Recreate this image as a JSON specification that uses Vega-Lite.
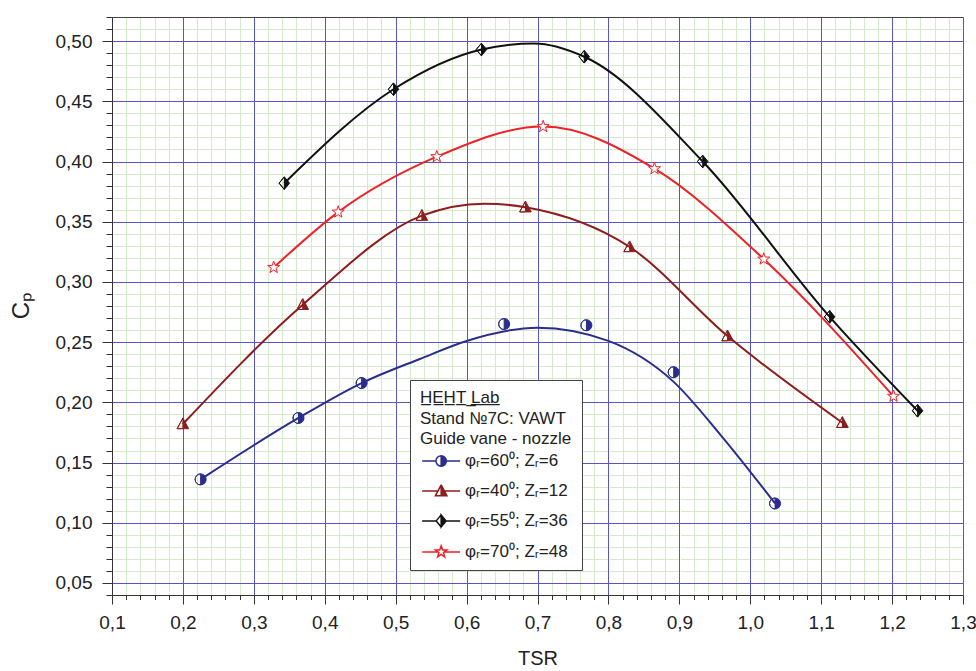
{
  "$schema": "https://vega.github.io/schema/vega-lite/v6.json",
  "width": 851,
  "height": 578,
  "autosize": "none",
  "padding": {"left": 112, "top": 17, "right": 13, "bottom": 76},
  "background": "white",
  "config": {
    "font": "Liberation Sans",
    "view": {"stroke": null},
    "legend": {
      "orient": "none",
      "legendX": 298,
      "legendY": 363,
      "padding": 10,
      "fillColor": "white",
      "strokeColor": "#444444",
      "titleFont": "Liberation Sans",
      "titleFontSize": 17,
      "titleFontWeight": "normal",
      "titleColor": "#222222",
      "titleLineHeight": 20.7,
      "titlePadding": 4,
      "titleLimit": 300,
      "labelFont": "Liberation Sans",
      "labelFontSize": 17,
      "labelColor": "#222222",
      "labelOffset": 28,
      "labelLimit": 300,
      "symbolSize": 121,
      "symbolStrokeWidth": 1.5,
      "symbolOpacity": 1,
      "rowPadding": 12
    }
  },
  "datasets": {
    "points": [
      {"series": "φᵣ=60⁰; Zᵣ=6", "tsr": 0.225, "cp": 0.136},
      {"series": "φᵣ=60⁰; Zᵣ=6", "tsr": 0.363, "cp": 0.187},
      {"series": "φᵣ=60⁰; Zᵣ=6", "tsr": 0.452, "cp": 0.216},
      {"series": "φᵣ=60⁰; Zᵣ=6", "tsr": 0.653, "cp": 0.265},
      {"series": "φᵣ=60⁰; Zᵣ=6", "tsr": 0.769, "cp": 0.264},
      {"series": "φᵣ=60⁰; Zᵣ=6", "tsr": 0.892, "cp": 0.225},
      {"series": "φᵣ=60⁰; Zᵣ=6", "tsr": 1.035, "cp": 0.116},
      {"series": "φᵣ=40⁰; Zᵣ=12", "tsr": 0.200, "cp": 0.182},
      {"series": "φᵣ=40⁰; Zᵣ=12", "tsr": 0.369, "cp": 0.281},
      {"series": "φᵣ=40⁰; Zᵣ=12", "tsr": 0.537, "cp": 0.355},
      {"series": "φᵣ=40⁰; Zᵣ=12", "tsr": 0.683, "cp": 0.362},
      {"series": "φᵣ=40⁰; Zᵣ=12", "tsr": 0.830, "cp": 0.329},
      {"series": "φᵣ=40⁰; Zᵣ=12", "tsr": 0.968, "cp": 0.255},
      {"series": "φᵣ=40⁰; Zᵣ=12", "tsr": 1.130, "cp": 0.183},
      {"series": "φᵣ=55⁰; Zᵣ=36", "tsr": 0.343, "cp": 0.382},
      {"series": "φᵣ=55⁰; Zᵣ=36", "tsr": 0.497, "cp": 0.460},
      {"series": "φᵣ=55⁰; Zᵣ=36", "tsr": 0.621, "cp": 0.493},
      {"series": "φᵣ=55⁰; Zᵣ=36", "tsr": 0.766, "cp": 0.487},
      {"series": "φᵣ=55⁰; Zᵣ=36", "tsr": 0.933, "cp": 0.400},
      {"series": "φᵣ=55⁰; Zᵣ=36", "tsr": 1.112, "cp": 0.271},
      {"series": "φᵣ=55⁰; Zᵣ=36", "tsr": 1.236, "cp": 0.193},
      {"series": "φᵣ=70⁰; Zᵣ=48", "tsr": 0.328, "cp": 0.312},
      {"series": "φᵣ=70⁰; Zᵣ=48", "tsr": 0.419, "cp": 0.358},
      {"series": "φᵣ=70⁰; Zᵣ=48", "tsr": 0.558, "cp": 0.404},
      {"series": "φᵣ=70⁰; Zᵣ=48", "tsr": 0.708, "cp": 0.429},
      {"series": "φᵣ=70⁰; Zᵣ=48", "tsr": 0.865, "cp": 0.394},
      {"series": "φᵣ=70⁰; Zᵣ=48", "tsr": 1.019, "cp": 0.319},
      {"series": "φᵣ=70⁰; Zᵣ=48", "tsr": 1.202, "cp": 0.205}
    ],
    "curves": [
      {"series": "φᵣ=60⁰; Zᵣ=6", "tsr": 0.225, "cp": 0.136},
      {"series": "φᵣ=60⁰; Zᵣ=6", "tsr": 0.363, "cp": 0.187},
      {"series": "φᵣ=60⁰; Zᵣ=6", "tsr": 0.452, "cp": 0.216},
      {"series": "φᵣ=60⁰; Zᵣ=6", "tsr": 0.534, "cp": 0.236},
      {"series": "φᵣ=60⁰; Zᵣ=6", "tsr": 0.600, "cp": 0.251},
      {"series": "φᵣ=60⁰; Zᵣ=6", "tsr": 0.700, "cp": 0.262},
      {"series": "φᵣ=60⁰; Zᵣ=6", "tsr": 0.800, "cp": 0.251},
      {"series": "φᵣ=60⁰; Zᵣ=6", "tsr": 0.892, "cp": 0.217},
      {"series": "φᵣ=60⁰; Zᵣ=6", "tsr": 0.958, "cp": 0.173},
      {"series": "φᵣ=60⁰; Zᵣ=6", "tsr": 1.035, "cp": 0.116},
      {"series": "φᵣ=40⁰; Zᵣ=12", "tsr": 0.200, "cp": 0.182},
      {"series": "φᵣ=40⁰; Zᵣ=12", "tsr": 0.369, "cp": 0.281},
      {"series": "φᵣ=40⁰; Zᵣ=12", "tsr": 0.537, "cp": 0.355},
      {"series": "φᵣ=40⁰; Zᵣ=12", "tsr": 0.625, "cp": 0.365},
      {"series": "φᵣ=40⁰; Zᵣ=12", "tsr": 0.683, "cp": 0.362},
      {"series": "φᵣ=40⁰; Zᵣ=12", "tsr": 0.830, "cp": 0.329},
      {"series": "φᵣ=40⁰; Zᵣ=12", "tsr": 0.968, "cp": 0.255},
      {"series": "φᵣ=40⁰; Zᵣ=12", "tsr": 1.130, "cp": 0.183},
      {"series": "φᵣ=55⁰; Zᵣ=36", "tsr": 0.343, "cp": 0.382},
      {"series": "φᵣ=55⁰; Zᵣ=36", "tsr": 0.497, "cp": 0.460},
      {"series": "φᵣ=55⁰; Zᵣ=36", "tsr": 0.621, "cp": 0.493},
      {"series": "φᵣ=55⁰; Zᵣ=36", "tsr": 0.695, "cp": 0.498},
      {"series": "φᵣ=55⁰; Zᵣ=36", "tsr": 0.766, "cp": 0.487},
      {"series": "φᵣ=55⁰; Zᵣ=36", "tsr": 0.933, "cp": 0.400},
      {"series": "φᵣ=55⁰; Zᵣ=36", "tsr": 1.112, "cp": 0.271},
      {"series": "φᵣ=55⁰; Zᵣ=36", "tsr": 1.236, "cp": 0.193},
      {"series": "φᵣ=70⁰; Zᵣ=48", "tsr": 0.328, "cp": 0.312},
      {"series": "φᵣ=70⁰; Zᵣ=48", "tsr": 0.419, "cp": 0.358},
      {"series": "φᵣ=70⁰; Zᵣ=48", "tsr": 0.558, "cp": 0.404},
      {"series": "φᵣ=70⁰; Zᵣ=48", "tsr": 0.708, "cp": 0.429},
      {"series": "φᵣ=70⁰; Zᵣ=48", "tsr": 0.865, "cp": 0.394},
      {"series": "φᵣ=70⁰; Zᵣ=48", "tsr": 1.019, "cp": 0.319},
      {"series": "φᵣ=70⁰; Zᵣ=48", "tsr": 1.202, "cp": 0.205}
    ]
  },
  "encoding": {
    "x": {
      "field": "tsr",
      "type": "quantitative",
      "scale": {"domain": [0.1, 1.3], "nice": false, "zero": false},
      "axis": {
        "title": "TSR",
        "values": [0.1,0.12,0.14,0.16,0.18,0.2,0.22,0.24,0.26,0.28,0.3,0.32,0.34,0.36,0.38,0.4,0.42,0.44,0.46,0.48,0.5,0.52,0.54,0.56,0.58,0.6,0.62,0.64,0.66,0.68,0.7,0.72,0.74,0.76,0.78,0.8,0.82,0.84,0.86,0.88,0.9,0.92,0.94,0.96,0.98,1.0,1.02,1.04,1.06,1.08,1.1,1.12,1.14,1.16,1.18,1.2,1.22,1.24,1.26,1.28,1.3],
        "labelExpr": "round(datum.value*100) % 10 === 0 ? replace(format(datum.value, '.1f'), '.', ',') : ''",
        "grid": true,
        "gridColor": {"condition": {"test": "round(datum.value*100) % 10 === 0", "value": "#5656c6"}, "value": "#d4ebcb"},
        "gridWidth": 1,
        "gridOpacity": 1,
        "tickSize": {"condition": {"test": "round(datum.value*100) % 10 === 0", "value": 9}, "value": 4.5},
        "tickColor": "#333333",
        "domainColor": "#333333",
        "labelFontSize": 19,
        "labelColor": "#222222",
        "labelPadding": 9,
        "labelFlush": false,
        "labelOverlap": false,
        "titleFontSize": 20,
        "titleFontWeight": "normal",
        "titleColor": "#222222",
        "titleY": 53,
        "titleBaseline": "top"
      }
    },
    "y": {
      "field": "cp",
      "type": "quantitative",
      "scale": {"domain": [0.04, 0.52], "nice": false, "zero": false},
      "axis": {
        "title": "Cₚ",
        "values": [0.04,0.05,0.06,0.07,0.08,0.09,0.1,0.11,0.12,0.13,0.14,0.15,0.16,0.17,0.18,0.19,0.2,0.21,0.22,0.23,0.24,0.25,0.26,0.27,0.28,0.29,0.3,0.31,0.32,0.33,0.34,0.35,0.36,0.37,0.38,0.39,0.4,0.41,0.42,0.43,0.44,0.45,0.46,0.47,0.48,0.49,0.5,0.51,0.52],
        "labelExpr": "round(datum.value*100) % 5 === 0 ? replace(format(datum.value, '.2f'), '.', ',') : ''",
        "grid": true,
        "gridColor": {"condition": [{"test": "datum.value > 0.515", "value": "#444444"}, {"test": "round(datum.value*100) % 5 === 0", "value": "#5656c6"}], "value": "#d4ebcb"},
        "gridDash": {"condition": {"test": "datum.value > 0.515 || round(datum.value*100) % 5 === 0", "value": []}, "value": [68.9167, 2]},
        "gridDashOffset": 69.9167,
        "gridWidth": 1,
        "gridOpacity": 1,
        "tickSize": {"condition": {"test": "round(datum.value*100) % 5 === 0", "value": 10}, "value": 6},
        "tickColor": "#333333",
        "domainColor": "#333333",
        "labelFontSize": 19,
        "labelColor": "#222222",
        "labelPadding": 10,
        "labelOverlap": false,
        "titleFontSize": 24,
        "titleFontWeight": "normal",
        "titleColor": "#222222",
        "titleX": -79,
        "titleY": 288,
        "titleBaseline": "bottom"
      }
    }
  },
  "layer": [
    {
      "data": {"name": "curves"},
      "mark": {"type": "line", "interpolate": "monotone", "strokeWidth": 2},
      "encoding": {
        "stroke": {
          "field": "series",
          "type": "nominal",
          "scale": {"domain": ["φᵣ=60⁰; Zᵣ=6", "φᵣ=40⁰; Zᵣ=12", "φᵣ=55⁰; Zᵣ=36", "φᵣ=70⁰; Zᵣ=48"], "range": ["#2b2d8e", "#8e1c1c", "#111111", "#ec2227"]},
          "legend": {"title": ["H̲E̲H̲T̲ ̲L̲a̲b̲", "Stand №7C: VAWT", "Guide vane - nozzle"]}
        }
      }
    },
    {
      "data": {"name": "points"},
      "mark": {"type": "point", "filled": true, "opacity": 0, "size": 121, "strokeWidth": 1.5},
      "encoding": {
        "shape": {
          "field": "series",
          "type": "nominal",
          "scale": {"domain": ["φᵣ=60⁰; Zᵣ=6", "φᵣ=40⁰; Zᵣ=12", "φᵣ=55⁰; Zᵣ=36", "φᵣ=70⁰; Zᵣ=48"], "range": [
            "M-1.15,0 L1.35,0 M3.25,0 L5.75,0 M2.3,-0.95 A0.95,0.95 0 0,0 2.3,0.95 A0.95,0.95 0 0,1 2.3,-0.95 M2.3,-0.95 A0.95,0.95 0 0,1 2.3,0.95 Z",
            "M-1.15,0 L1.72,0 M2.88,0 L5.75,0 M2.3,-1.1 L1.25,0.9 L2.3,0.9 L1.25,0.9 Z M2.3,-1.1 L3.35,0.9 L2.3,0.9 Z",
            "M-1.15,0 L1.4,0 M3.2,0 L5.75,0 M2.3,-1.1 L1.4,0 L2.3,1.1 L1.4,0 Z M2.3,-1.1 L3.2,0 L2.3,1.1 Z",
            "M-1.15,0 L1.7,0 M2.9,0 L5.75,0 M2.3,-1.1 L2.558,-0.356 L3.346,-0.34 L2.718,0.136 L2.947,0.89 L2.3,0.44 L1.653,0.89 L1.882,0.136 L1.254,-0.34 L2.042,-0.356 Z"
          ]},
          "legend": {"title": ["H̲E̲H̲T̲ ̲L̲a̲b̲", "Stand №7C: VAWT", "Guide vane - nozzle"]}
        },
        "stroke": {
          "field": "series",
          "type": "nominal",
          "legend": {"title": ["H̲E̲H̲T̲ ̲L̲a̲b̲", "Stand №7C: VAWT", "Guide vane - nozzle"]}
        },
        "fill": {
          "field": "series",
          "type": "nominal",
          "scale": {"domain": ["φᵣ=60⁰; Zᵣ=6", "φᵣ=40⁰; Zᵣ=12", "φᵣ=55⁰; Zᵣ=36", "φᵣ=70⁰; Zᵣ=48"], "range": ["#2b2d8e", "#8e1c1c", "#111111", "#ffffff"]},
          "legend": {"title": ["H̲E̲H̲T̲ ̲L̲a̲b̲", "Stand №7C: VAWT", "Guide vane - nozzle"]}
        }
      }
    },
    {
      "data": {"name": "points"},
      "mark": {"type": "point", "filled": true, "opacity": 1, "size": 121, "strokeWidth": 1},
      "encoding": {
        "shape": {
          "condition": [
            {"test": "datum.series === 'φᵣ=60⁰; Zᵣ=6'", "value": "M0,-1 A1,1 0 0,0 0,1 A1,1 0 0,1 0,-1 M0,-1 A1,1 0 0,1 0,1 Z"},
            {"test": "datum.series === 'φᵣ=40⁰; Zᵣ=12'", "value": "M0,-1.1 L-1.05,0.85 L0,0.85 L-1.05,0.85 Z M0,-1.1 L1.05,0.85 L0,0.85 Z"},
            {"test": "datum.series === 'φᵣ=55⁰; Zᵣ=36'", "value": "M0,-1.15 L-0.95,0 L0,1.15 L-0.95,0 Z M0,-1.15 L0.95,0 L0,1.15 Z"}
          ],
          "value": "M0,-1.15 L0.27,-0.373 L1.094,-0.355 L0.437,0.143 L0.676,0.93 L0,0.46 L-0.676,0.93 L-0.437,0.143 L-1.094,-0.355 L-0.27,-0.373 Z"
        },
        "stroke": {
          "field": "series",
          "type": "nominal",
          "legend": {"title": ["H̲E̲H̲T̲ ̲L̲a̲b̲", "Stand №7C: VAWT", "Guide vane - nozzle"]}
        },
        "fill": {
          "field": "series",
          "type": "nominal",
          "legend": {"title": ["H̲E̲H̲T̲ ̲L̲a̲b̲", "Stand №7C: VAWT", "Guide vane - nozzle"]}
        }
      }
    }
  ]
}
